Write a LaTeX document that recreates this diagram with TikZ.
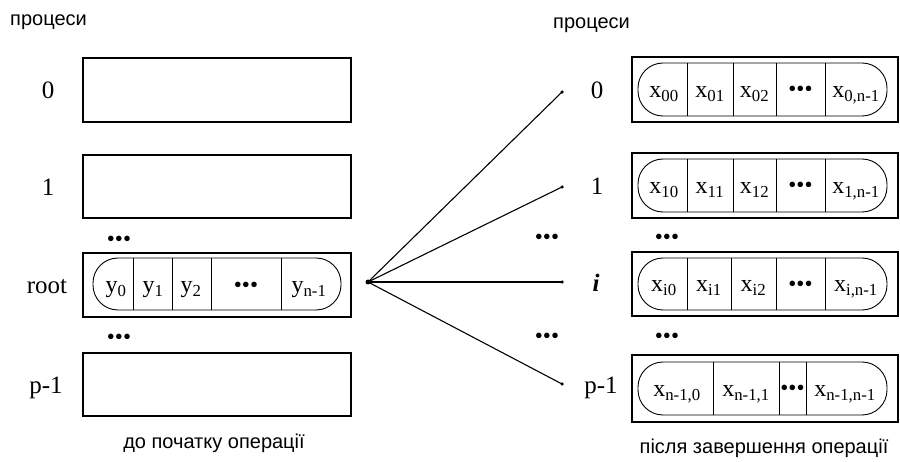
\documentclass[tikz,border=0pt]{standalone}
\usepackage{fontspec}
\setmainfont{Liberation Serif}
\setsansfont{Liberation Sans}
\begin{document}
\begin{tikzpicture}[x=1pt,y=-1pt,
  procbox/.style={draw, line width=1.3pt, inner sep=0pt, minimum width=#1},
  procbox/.default=268pt,
  stad/.style={draw, line width=0.9pt, rounded corners=25pt},
  sep/.style={line width=0.9pt},
  num/.style={font=\fontsize{25}{25}\selectfont, inner sep=0pt, anchor=base},
  captext/.style={font=\sffamily\fontsize{20}{20}\selectfont, inner sep=0pt},
  cell/.style={font=\fontsize{24}{24}\selectfont, inner sep=0pt, anchor=base},
  dots/.style={font=\fontsize{23}{23}\selectfont, inner sep=0pt, yshift=-3pt},
  fan/.style={line width=1.1pt},
  tip/.style={circle, fill, inner sep=0pt, minimum size=#1},
]
\useasboundingbox (0,0) rectangle (900,462);

% ---- left side: before the operation ----
\node[captext, anchor=west] (capL) at (10,22) {процеси};

\node[procbox, minimum height=64pt] (L0) at (217,90) {};
\node[procbox, minimum height=63pt] (L1) at (217,186.5) {};
\node[procbox, minimum height=64pt] (Lr) at (217,285) {};
\node[procbox, minimum height=63pt] (Lp) at (217,384.5) {};

\node[num] (nL0) at (48,99) {0};
\node[num] (nL1) at (48,195.5) {1};
\node[num] (nLr) at (47,294) {root};
\node[num] (nLp) at (46,393.5) {p-1};

\node[dots] (dL1) at (119,238) {•••};
\node[dots] (dL2) at (119,336) {•••};

% data vector of the root process
\draw[stad] (93,258) rectangle (341,310);
\foreach \xx in {133,172,211,281} \draw[sep] (\xx,258) -- (\xx,310);
\node[cell] (y0) at (116,293) {y\textsubscript{0}};
\node[cell] (y1) at (153,293) {y\textsubscript{1}};
\node[cell] (y2) at (191,293) {y\textsubscript{2}};
\node[dots] (yd) at (246,284) {•••};
\node[cell] (yn) at (309,293) {y\textsubscript{n-1}};

\node[captext] (bL) at (214,443) {до початку операції};

% ---- scatter fan ----
\node[tip=5pt] (src) at (368,282) {};
\node[tip=3.5pt] (e0) at (562,92) {};
\node[tip=3.5pt] (e1) at (562,187) {};
\node[tip=3.5pt] (ei) at (562,282) {};
\node[tip=3.5pt] (ep) at (562,384) {};
\foreach \t in {e0,e1,ei,ep} \draw[fan] (src.center) -- (\t.center);

% ---- right side: after the operation ----
\node[captext, anchor=west] (capR) at (553,25) {процеси};

\node[procbox=266pt, minimum height=65pt] (R0) at (765,89.5) {};
\node[procbox=266pt, minimum height=65pt] (R1) at (765,185.5) {};
\node[procbox=266pt, minimum height=64pt] (Ri) at (765,284) {};
\node[procbox=266pt, minimum height=67pt] (Rp) at (765,388.5) {};

\node[num] (nR0) at (597,98.5) {0};
\node[num] (nR1) at (597,195) {1};
\node[num] (nRi) at (596,292) {\textbf{\textit{i}}};
\node[num] (nRp) at (601,393) {p-1};

\node[dots] (dR1) at (547,236) {•••};
\node[dots] (dR2) at (547,335) {•••};
\node[dots] (dR3) at (667,236) {•••};
\node[dots] (dR4) at (667,335) {•••};

% row 0
\draw[stad] (638,63) rectangle (887,116);
\foreach \xx in {687,733,776,825} \draw[sep] (\xx,63) -- (\xx,116);
\node[cell] (x00) at (664,97.5) {x\textsubscript{00}};
\node[cell] (x01) at (710,97.5) {x\textsubscript{01}};
\node[cell] (x02) at (754.5,97.5) {x\textsubscript{02}};
\node[dots] (x0d) at (800.5,88) {•••};
\node[cell] (x0n) at (856,97.5) {x\textsubscript{0,n-1}};

% row 1
\draw[stad] (638,159) rectangle (887,212);
\foreach \xx in {687,733,776,825} \draw[sep] (\xx,159) -- (\xx,212);
\node[cell] (x10) at (664,193.5) {x\textsubscript{10}};
\node[cell] (x11) at (710,193.5) {x\textsubscript{11}};
\node[cell] (x12) at (754.5,193.5) {x\textsubscript{12}};
\node[dots] (x1d) at (800.5,184) {•••};
\node[cell] (x1n) at (856,193.5) {x\textsubscript{1,n-1}};

% row i
\draw[stad] (638,258) rectangle (887,310);
\foreach \xx in {687,731,776,825} \draw[sep] (\xx,258) -- (\xx,310);
\node[cell] (xi0) at (664,292) {x\textsubscript{i0}};
\node[cell] (xi1) at (709,292) {x\textsubscript{i1}};
\node[cell] (xi2) at (753.5,292) {x\textsubscript{i2}};
\node[dots] (xid) at (800.5,283) {•••};
\node[cell] (xin) at (856,292) {x\textsubscript{i,n-1}};

% row p-1
\draw[stad] (638,362) rectangle (887,415);
\foreach \xx in {713,779,806} \draw[sep] (\xx,362) -- (\xx,415);
\node[cell] (xp0) at (677,396.5) {x\textsubscript{n-1,0}};
\node[cell] (xp1) at (746,396.5) {x\textsubscript{n-1,1}};
\node[dots] (xpd) at (792.5,387.5) {•••};
\node[cell] (xpn) at (845,396.5) {x\textsubscript{n-1,n-1}};

\node[captext] (bR) at (764,448) {після завершення операції};
\end{tikzpicture}
\end{document}
